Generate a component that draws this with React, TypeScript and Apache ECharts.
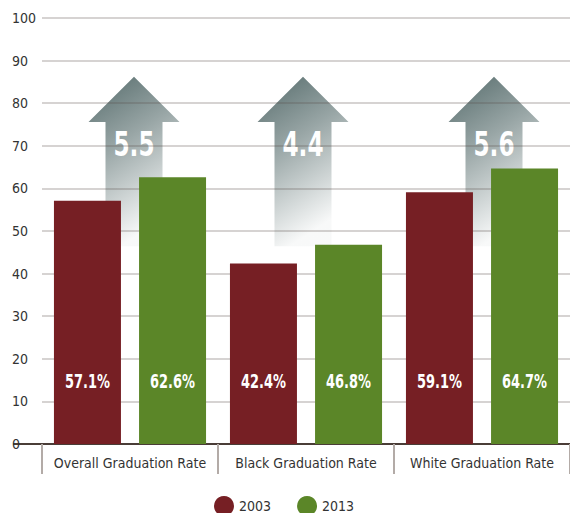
import React, { useEffect, useRef } from "react";
import * as echarts from "echarts";

const categories = ["Overall Graduation Rate", "Black Graduation Rate", "White Graduation Rate"];
const rates2003 = [57.1, 42.4, 59.1];
const rates2013 = [62.6, 46.8, 64.7];
const increases = [5.5, 4.4, 5.6];
const seriesNames = ["2003", "2013"];
const yTicks = { min: 0, max: 100, interval: 10 };

const FONT = "'DejaVu Sans Condensed', 'Liberation Sans Narrow', Roboto, sans-serif";
const MAROON = "#761f24";
const GREEN = "#5b8628";
const COLORS = [MAROON, GREEN];

// layout constants (axis value units / px)
const ARROW_BOTTOM = 46.4;
const ARROW_HEAD_BASE = 75.6;
const ARROW_TIP = 86.2;
const ARROW_TEXT = 70.3;
const ARROW_HEAD_W = 91;
const ARROW_SHAFT_W = 57;
const ARROW_DX = [4, -3, 12];
const BAR_W = 67;
const BAR_OFFSET = 42.5;
const LABEL_VALUE = 14.8;

export default function App() {
  const ref = useRef<HTMLDivElement>(null);
  useEffect(() => {
    if (!ref.current) return;
    const chart = echarts.init(ref.current, null, { renderer: "svg" });
    const arrowData = increases.map((v, i) => [i, v]);
    const labelData: number[][] = [];
    rates2003.forEach((v, i) => labelData.push([i, v, 0]));
    rates2013.forEach((v, i) => labelData.push([i, v, 1]));

    const barSeries = [rates2003, rates2013].map((d, s) => ({
      type: "bar",
      name: seriesNames[s],
      data: d,
      barWidth: BAR_W,
      barGap: "27%",
      itemStyle: { color: COLORS[s] },
    }));

    chart.setOption({
      animation: false,
      grid: { left: 42, right: -3, top: 18, bottom: 69, containLabel: false },
      legend: {
        top: 491,
        left: 209,
        icon: "circle",
        itemWidth: 20,
        itemHeight: 20,
        itemGap: 26,
        textStyle: { fontFamily: FONT, fontSize: 14, color: "#333" },
        data: seriesNames,
      },
      xAxis: {
        type: "category",
        data: categories,
        axisLine: { lineStyle: { color: "#4a3d37", width: 2 } },
        axisTick: { show: true, interval: 0, length: 30, lineStyle: { color: "#b3aba7", width: 2 } },
        axisLabel: { interval: 0, fontFamily: FONT, fontSize: 14, color: "#333", margin: 12 },
      },
      yAxis: {
        type: "value",
        min: yTicks.min,
        max: yTicks.max,
        interval: yTicks.interval,
        axisLine: { show: false },
        axisTick: { show: false },
        axisLabel: { fontFamily: FONT, fontSize: 14, color: "#333", align: "left", margin: 30 },
        splitLine: { lineStyle: { color: "rgba(90,80,75,0.33)", width: 1.5 } },
      },
      graphic: [
        {
          type: "line",
          shape: { x1: 13, y1: 444, x2: 43, y2: 444 },
          style: { stroke: "#4a3d37", lineWidth: 2 },
        },
      ],
      series: [
        {
          type: "custom",
          name: "increase",
          z: -1,
          data: arrowData,
          renderItem: (params: any, api: any) => {
            const idx = api.value(0);
            const val = api.value(1);
            const tip = api.coord([idx, ARROW_TIP]);
            const base = api.coord([idx, ARROW_HEAD_BASE]);
            const bot = api.coord([idx, ARROW_BOTTOM]);
            const txt = api.coord([idx, ARROW_TEXT]);
            const cx = tip[0] + ARROW_DX[idx];
            const hw = ARROW_HEAD_W / 2;
            const sw = ARROW_SHAFT_W / 2;
            return {
              type: "group",
              children: [
                {
                  type: "polygon",
                  shape: {
                    points: [
                      [cx, tip[1]],
                      [cx + hw, base[1]],
                      [cx + sw, base[1]],
                      [cx + sw, bot[1]],
                      [cx - sw, bot[1]],
                      [cx - sw, base[1]],
                      [cx - hw, base[1]],
                    ],
                  },
                  style: {
                    fill: new echarts.graphic.LinearGradient(0, 0, 0.35, 1, [
                      { offset: 0, color: "rgba(84,106,106,1)" },
                      { offset: 0.45, color: "rgba(84,106,106,0.6)" },
                      { offset: 1, color: "rgba(84,106,106,0.04)" },
                    ]),
                  },
                },
                {
                  type: "text",
                  x: cx,
                  y: txt[1],
                  scaleX: 0.78,
                  style: {
                    text: String(val),
                    x: 0,
                    y: 0,
                    fill: "#fff",
                    font: `bold 33px ${FONT}`,
                    align: "center",
                    verticalAlign: "middle",
                  },
                },
              ],
            };
          },
        },
        ...barSeries,
        {
          type: "custom",
          name: "labels",
          z: 5,
          data: labelData,
          renderItem: (params: any, api: any) => {
            const idx = api.value(0);
            const val = api.value(1);
            const s = api.value(2);
            const p = api.coord([idx, LABEL_VALUE]);
            const x = p[0] + (s === 0 ? -BAR_OFFSET : BAR_OFFSET);
            return {
              type: "text",
              x,
              y: p[1],
              scaleX: 0.72,
              style: {
                text: val.toFixed(1) + "%",
                x: 0,
                y: 0,
                fill: "#fff",
                font: `bold 20px ${FONT}`,
                align: "center",
                verticalAlign: "middle",
              },
            };
          },
        },
      ],
    });
    return () => chart.dispose();
  }, []);
  return <div ref={ref} style={{ width: 570, height: 513, position: "absolute", left: 0, top: 0 }} />;
}
